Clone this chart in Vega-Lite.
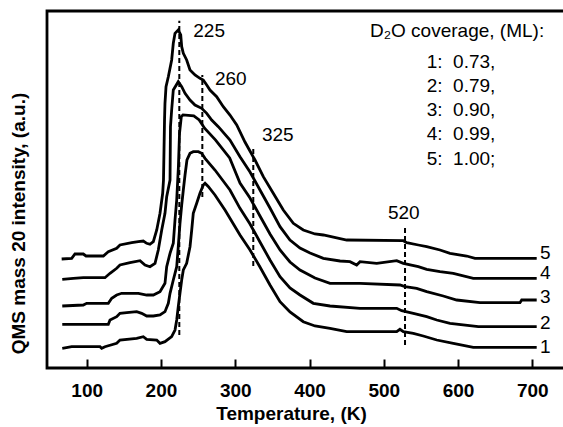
{
  "$schema": "https://vega.github.io/schema/vega-lite/v6.json",
  "width": 520,
  "height": 357,
  "autosize": "none",
  "padding": {"left": 47, "top": 11, "right": 0, "bottom": 59},
  "background": "white",
  "config": {
    "view": {"stroke": "black", "strokeWidth": 2.8},
    "font": "Liberation Sans"
  },
  "datasets": {
    "curves": [
      {"c":5,"T":66.3,"I":109},{"c":5,"T":79.8,"I":109.7},{"c":5,"T":84.2,"I":114},{"c":5,"T":95.4,"I":114},{"c":5,"T":99.1,"I":112},{"c":5,"T":122.4,"I":112},{"c":5,"T":129.1,"I":116.3},{"c":5,"T":140.4,"I":119.7},{"c":5,"T":144.8,"I":123},{"c":5,"T":160.6,"I":125.3},{"c":5,"T":169.5,"I":126.3},{"c":5,"T":176.2,"I":127},{"c":5,"T":180.8,"I":124.7},{"c":5,"T":185.2,"I":123.7},{"c":5,"T":189.7,"I":126.3},{"c":5,"T":194.3,"I":138},{"c":5,"T":198.7,"I":154.7},{"c":5,"T":202.3,"I":174.7},{"c":5,"T":203.4,"I":188},{"c":5,"T":204.1,"I":218},{"c":5,"T":204.8,"I":248},{"c":5,"T":205.4,"I":264.7},{"c":5,"T":206.8,"I":281.3},{"c":5,"T":209.9,"I":291.3},{"c":5,"T":214.4,"I":308},{"c":5,"T":216.6,"I":324.7},{"c":5,"T":218.9,"I":334.7},{"c":5,"T":223.3,"I":338},{"c":5,"T":226.6,"I":333},{"c":5,"T":227.9,"I":321.3},{"c":5,"T":230.1,"I":314.7},{"c":5,"T":234.6,"I":308},{"c":5,"T":239.1,"I":298},{"c":5,"T":245.8,"I":293},{"c":5,"T":252.5,"I":289.7},{"c":5,"T":257.0,"I":288},{"c":5,"T":261.6,"I":283},{"c":5,"T":266.0,"I":278},{"c":5,"T":275.0,"I":271.3},{"c":5,"T":283.9,"I":261.3},{"c":5,"T":292.9,"I":253},{"c":5,"T":302.0,"I":243},{"c":5,"T":313.1,"I":226},{"c":5,"T":326.6,"I":208},{"c":5,"T":337.8,"I":191.3},{"c":5,"T":351.2,"I":174.7},{"c":5,"T":364.7,"I":158},{"c":5,"T":378.2,"I":144.7},{"c":5,"T":391.6,"I":138},{"c":5,"T":407.4,"I":134},{"c":5,"T":418.6,"I":133},{"c":5,"T":450.1,"I":128},{"c":5,"T":526.3,"I":127.3},{"c":5,"T":530.9,"I":125.3},{"c":5,"T":546.5,"I":123},{"c":5,"T":557.8,"I":121.3},{"c":5,"T":575.7,"I":118},{"c":5,"T":589.2,"I":114.7},{"c":5,"T":611.6,"I":112},{"c":5,"T":622.8,"I":109.7},{"c":5,"T":705.9,"I":109.7},
      {"c":4,"T":67.1,"I":88.7},{"c":4,"T":82.0,"I":89.7},{"c":4,"T":95.4,"I":90.3},{"c":4,"T":124.6,"I":90.3},{"c":4,"T":131.4,"I":94.7},{"c":4,"T":140.4,"I":99.7},{"c":4,"T":144.8,"I":103},{"c":4,"T":158.3,"I":105.3},{"c":4,"T":171.8,"I":107.3},{"c":4,"T":178.5,"I":103},{"c":4,"T":185.2,"I":101.3},{"c":4,"T":192.0,"I":104.7},{"c":4,"T":196.4,"I":118},{"c":4,"T":201.0,"I":138},{"c":4,"T":205.4,"I":154.7},{"c":4,"T":207.7,"I":171.3},{"c":4,"T":212.2,"I":188},{"c":4,"T":212.8,"I":241.3},{"c":4,"T":214.4,"I":258},{"c":4,"T":216.6,"I":278},{"c":4,"T":223.3,"I":286.3},{"c":4,"T":227.9,"I":281.3},{"c":4,"T":232.4,"I":274.7},{"c":4,"T":239.1,"I":268},{"c":4,"T":245.8,"I":263},{"c":4,"T":254.8,"I":259.7},{"c":4,"T":261.6,"I":254.7},{"c":4,"T":268.3,"I":248},{"c":4,"T":277.2,"I":241.3},{"c":4,"T":292.9,"I":228},{"c":4,"T":306.4,"I":211.3},{"c":4,"T":319.9,"I":196},{"c":4,"T":333.3,"I":178},{"c":4,"T":346.8,"I":160},{"c":4,"T":360.3,"I":141.3},{"c":4,"T":373.7,"I":128},{"c":4,"T":387.2,"I":120},{"c":4,"T":400.7,"I":115},{"c":4,"T":418.6,"I":109.7},{"c":4,"T":441.1,"I":107},{"c":4,"T":454.5,"I":106.3},{"c":4,"T":463.5,"I":103},{"c":4,"T":468.0,"I":106.3},{"c":4,"T":490.5,"I":104.7},{"c":4,"T":517.4,"I":107.3},{"c":4,"T":526.3,"I":104.7},{"c":4,"T":546.5,"I":101.3},{"c":4,"T":557.8,"I":98.7},{"c":4,"T":575.7,"I":96.3},{"c":4,"T":593.6,"I":94.7},{"c":4,"T":620.5,"I":89.7},{"c":4,"T":705.9,"I":89.7},
      {"c":3,"T":67.1,"I":62},{"c":3,"T":95.4,"I":63},{"c":3,"T":100,"I":64.7},{"c":3,"T":129.1,"I":64.7},{"c":3,"T":133.7,"I":69.7},{"c":3,"T":140.4,"I":73},{"c":3,"T":147.1,"I":74.7},{"c":3,"T":169.5,"I":74.7},{"c":3,"T":180.8,"I":73},{"c":3,"T":189.7,"I":73},{"c":3,"T":198.7,"I":76.3},{"c":3,"T":205.4,"I":84.7},{"c":3,"T":207.7,"I":101.3},{"c":3,"T":212.2,"I":114.7},{"c":3,"T":216.6,"I":124.7},{"c":3,"T":218.9,"I":148},{"c":3,"T":221.2,"I":168},{"c":3,"T":223.5,"I":201.5},{"c":3,"T":225.0,"I":234.8},{"c":3,"T":227.4,"I":251.4},{"c":3,"T":229.7,"I":253.1},{"c":3,"T":244.2,"I":252.1},{"c":3,"T":251.5,"I":248.1},{"c":3,"T":258.7,"I":239.8},{"c":3,"T":273.3,"I":228.1},{"c":3,"T":292.5,"I":210},{"c":3,"T":306.4,"I":185},{"c":3,"T":319.9,"I":170},{"c":3,"T":333.3,"I":152},{"c":3,"T":346.8,"I":134},{"c":3,"T":360.3,"I":118},{"c":3,"T":373.7,"I":106},{"c":3,"T":387.2,"I":98},{"c":3,"T":407.4,"I":90},{"c":3,"T":427.6,"I":84.7},{"c":3,"T":468.0,"I":84.7},{"c":3,"T":521.8,"I":83},{"c":3,"T":528.6,"I":81.3},{"c":3,"T":544.3,"I":79.7},{"c":3,"T":557.8,"I":76.3},{"c":3,"T":580.1,"I":72},{"c":3,"T":598.2,"I":68},{"c":3,"T":629.5,"I":65.3},{"c":3,"T":683.4,"I":65.3},{"c":3,"T":685.7,"I":68},{"c":3,"T":705.9,"I":68},
      {"c":2,"T":67.1,"I":43.7},{"c":2,"T":129.1,"I":43.7},{"c":2,"T":131.4,"I":48},{"c":2,"T":140.4,"I":51.3},{"c":2,"T":144.8,"I":54.7},{"c":2,"T":153.9,"I":55.3},{"c":2,"T":167.3,"I":56.3},{"c":2,"T":174.0,"I":54.7},{"c":2,"T":180.8,"I":52},{"c":2,"T":189.7,"I":52},{"c":2,"T":198.7,"I":53},{"c":2,"T":205.4,"I":56.3},{"c":2,"T":209.9,"I":64.7},{"c":2,"T":212.2,"I":74.7},{"c":2,"T":216.6,"I":88},{"c":2,"T":221.2,"I":101.3},{"c":2,"T":223.3,"I":121.3},{"c":2,"T":225.6,"I":144.7},{"c":2,"T":227.9,"I":163},{"c":2,"T":230.1,"I":178},{"c":2,"T":232.4,"I":193},{"c":2,"T":235.0,"I":208},{"c":2,"T":239.1,"I":214.7},{"c":2,"T":243.5,"I":216.3},{"c":2,"T":250.3,"I":216.3},{"c":2,"T":254.8,"I":214.7},{"c":2,"T":259.3,"I":209.7},{"c":2,"T":272.7,"I":198},{"c":2,"T":292.9,"I":178},{"c":2,"T":306.4,"I":159.7},{"c":2,"T":319.9,"I":144},{"c":2,"T":333.3,"I":126},{"c":2,"T":346.8,"I":108},{"c":2,"T":360.3,"I":91.3},{"c":2,"T":373.7,"I":80},{"c":2,"T":387.2,"I":73},{"c":2,"T":405.1,"I":64.7},{"c":2,"T":427.6,"I":62},{"c":2,"T":468.0,"I":59.7},{"c":2,"T":517.4,"I":59.7},{"c":2,"T":524.1,"I":57.3},{"c":2,"T":539.8,"I":54.7},{"c":2,"T":557.8,"I":51.3},{"c":2,"T":571.3,"I":48},{"c":2,"T":589.2,"I":44.7},{"c":2,"T":627.3,"I":41.3},{"c":2,"T":705.9,"I":41.3},
      {"c":1,"T":67.1,"I":19.7},{"c":1,"T":79.8,"I":21.3},{"c":1,"T":117.9,"I":21.3},{"c":1,"T":120.2,"I":19.7},{"c":1,"T":124.6,"I":21.3},{"c":1,"T":140.4,"I":24.7},{"c":1,"T":144.8,"I":28},{"c":1,"T":167.3,"I":29.7},{"c":1,"T":176.2,"I":31.3},{"c":1,"T":180.8,"I":28.7},{"c":1,"T":194.3,"I":28},{"c":1,"T":198.7,"I":24.7},{"c":1,"T":205.4,"I":26.3},{"c":1,"T":214.4,"I":31.3},{"c":1,"T":218.9,"I":38},{"c":1,"T":221.2,"I":48},{"c":1,"T":223.3,"I":61.3},{"c":1,"T":225.6,"I":74.7},{"c":1,"T":227.9,"I":88},{"c":1,"T":230.1,"I":98},{"c":1,"T":234.6,"I":104.7},{"c":1,"T":239.1,"I":121.3},{"c":1,"T":241.4,"I":138},{"c":1,"T":243.5,"I":154.7},{"c":1,"T":248.1,"I":164.7},{"c":1,"T":252.5,"I":174.7},{"c":1,"T":257.0,"I":183},{"c":1,"T":259.3,"I":184.7},{"c":1,"T":263.6,"I":181.5},{"c":1,"T":272.7,"I":173},{"c":1,"T":286.2,"I":158},{"c":1,"T":306.4,"I":133},{"c":1,"T":319.9,"I":118},{"c":1,"T":333.3,"I":101},{"c":1,"T":346.8,"I":83},{"c":1,"T":360.3,"I":66.3},{"c":1,"T":373.7,"I":56},{"c":1,"T":391.6,"I":46.3},{"c":1,"T":407.4,"I":42},{"c":1,"T":427.6,"I":39.7},{"c":1,"T":450.1,"I":36.3},{"c":1,"T":517.4,"I":36.3},{"c":1,"T":521.8,"I":38.7},{"c":1,"T":526.3,"I":36.3},{"c":1,"T":539.8,"I":34.7},{"c":1,"T":553.2,"I":32},{"c":1,"T":571.3,"I":28},{"c":1,"T":593.6,"I":24.7},{"c":1,"T":620.5,"I":20.7},{"c":1,"T":705.9,"I":20.7}
    ],
    "markers": [
      {"T":224.7,"lo":33,"hi":347.3},
      {"T":255.7,"lo":171,"hi":293},
      {"T":324.3,"lo":102,"hi":221},
      {"T":528.6,"lo":23,"hi":143}
    ],
    "labels": [
      {"T":243.5,"I":337,"text":"225"},
      {"T":272.7,"I":289,"text":"260"},
      {"T":336.0,"I":233,"text":"325"},
      {"T":505.6,"I":155,"text":"520"},
      {"T":481.4,"I":337,"text":"D₂O coverage, (ML):"},
      {"T":557.8,"I":306,"text":"1:\u00a0 0.73,"},
      {"T":557.8,"I":282,"text":"2:\u00a0 0.79,"},
      {"T":557.8,"I":258,"text":"3:\u00a0 0.90,"},
      {"T":557.8,"I":234,"text":"4:\u00a0 0.99,"},
      {"T":557.8,"I":209,"text":"5:\u00a0 1.00;"},
      {"T":710.4,"I":114.7,"text":"5"},
      {"T":710.4,"I":94.7,"text":"4"},
      {"T":710.4,"I":71.3,"text":"3"},
      {"T":710.4,"I":44.7,"text":"2"},
      {"T":710.4,"I":21.3,"text":"1"}
    ]
  },
  "layer": [
    {
      "data": {"name": "curves"},
      "mark": {"type": "line", "color": "black", "strokeWidth": 2.8, "strokeJoin": "miter"},
      "encoding": {
        "x": {
          "field": "T", "type": "quantitative",
          "scale": {"domain": [46.55, 746.7], "nice": false, "zero": false},
          "axis": {
            "values": [100, 200, 300, 400, 500, 600, 700],
            "title": "Temperature, (K)",
            "titleFont": "Liberation Sans", "titleFontSize": 19, "titleFontWeight": "bold", "titleColor": "black",
            "titleX": 244, "titlePadding": 4,
            "labelFont": "Liberation Sans", "labelFontSize": 19, "labelFontWeight": "bold", "labelColor": "black",
            "labelPadding": 22,
            "tickSize": -9, "tickWidth": 2, "tickColor": "black",
            "domain": false, "grid": false
          }
        },
        "y": {
          "field": "I", "type": "quantitative",
          "scale": {"domain": [0, 357], "nice": false, "zero": false},
          "axis": {
            "title": "QMS mass 20 intensity, (a.u.)",
            "titleFont": "Liberation Sans", "titleFontSize": 19, "titleFontWeight": "bold", "titleColor": "black",
            "titleX": -29, "titleY": 212, "titleBaseline": "middle", "titleAngle": -90, "titleAlign": "center",
            "labels": false, "ticks": false, "domain": false, "grid": false
          }
        },
        "detail": {"field": "c", "type": "nominal"}
      }
    },
    {
      "data": {"name": "markers"},
      "mark": {"type": "rule", "color": "black", "strokeWidth": 2, "strokeDash": [5, 3]},
      "encoding": {
        "x": {"field": "T", "type": "quantitative"},
        "y": {"field": "lo", "type": "quantitative"},
        "y2": {"field": "hi"}
      }
    },
    {
      "data": {"name": "labels"},
      "mark": {"type": "text", "align": "left", "baseline": "middle", "font": "Liberation Sans", "fontSize": 19, "color": "black"},
      "encoding": {
        "x": {"field": "T", "type": "quantitative"},
        "y": {"field": "I", "type": "quantitative"},
        "text": {"field": "text", "type": "nominal"}
      }
    }
  ]
}
